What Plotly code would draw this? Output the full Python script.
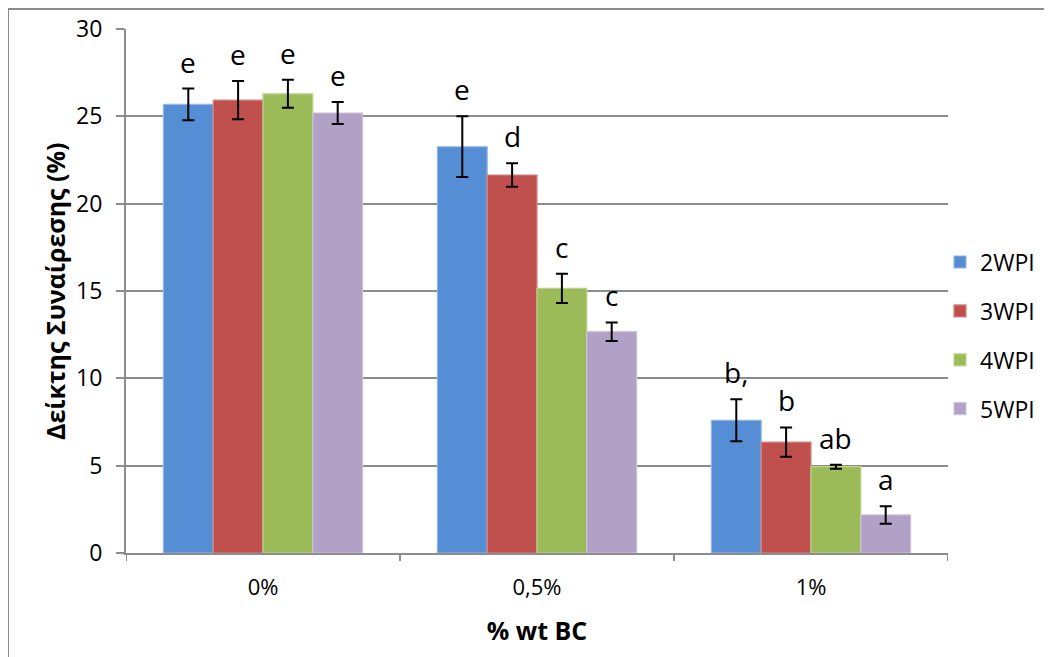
import plotly.graph_objects as go

categories = ["0%", "0,5%", "1%"]
series_names = ["2WPI", "3WPI", "4WPI", "5WPI"]
values_2wpi = [25.68, 23.26, 7.60]
values_3wpi = [25.93, 21.64, 6.35]
values_4wpi = [26.29, 15.15, 4.94]
values_5wpi = [25.19, 12.67, 2.18]
errors_2wpi = [0.91, 1.74, 1.20]
errors_3wpi = [1.10, 0.67, 0.84]
errors_4wpi = [0.80, 0.84, 0.11]
errors_5wpi = [0.63, 0.53, 0.50]
labels_2wpi = ["e", "e", "b,"]
labels_3wpi = ["e", "d", "b"]
labels_4wpi = ["e", "c", "ab"]
labels_5wpi = ["e", "c", "a"]
y_ticks = [0, 5, 10, 15, 20, 25, 30]

values = [values_2wpi, values_3wpi, values_4wpi, values_5wpi]
errors = [errors_2wpi, errors_3wpi, errors_4wpi, errors_5wpi]
labels = [labels_2wpi, labels_3wpi, labels_4wpi, labels_5wpi]
colors = ["#558ED5", "#C0504D", "#9BBB59", "#B2A1C7"]
edge_colors = ["#95B7E3", "#D08583", "#BCD38E", "#CDC1DB"]

FONT = "Open Sans"
GRID = "#8C8C8C"
BARGAP = 0.273

# the page body adds an 8px offset; margins below compensate for it
W, H = 1052, 657
ML, MT, MR, MB = 118, 21, 112, 112
PW, PH = W - ML - MR, H - MT - MB

fig = go.Figure()
for i, name in enumerate(series_names):
    fig.add_trace(go.Bar(
        x=list(range(len(categories))), y=values[i], name=name,
        legendgroup=name,
        marker=dict(color=colors[i], line=dict(color=edge_colors[i], width=1.2)),
        error_y=dict(type="data", array=errors[i], visible=True,
                     color="black", thickness=2, width=6),
    ))

annotations = []
n = len(series_names)
bw = (1 - BARGAP) / n
for i in range(n):
    for j in range(len(categories)):
        annotations.append(dict(
            x=j + (i - (n - 1) / 2) * bw, y=values[i][j] + errors[i][j],
            xref="x", yref="y", text=labels[i][j], showarrow=False,
            yanchor="bottom", yshift=6,
            font=dict(family=FONT, size=28, color="black"),
        ))

# y-axis title as a rotated annotation
annotations.append(dict(
    x=(47 - ML) / PW, y=0.5, xref="paper", yref="paper",
    text="<b>Δείκτης Συναίρεσης (%)</b>", textangle=-90, showarrow=False,
    xanchor="center", yanchor="middle",
    font=dict(family=FONT, size=25, color="black"),
))

fig.update_layout(
    width=W, height=H,
    margin=dict(l=ML, r=MR, t=MT, b=MB, autoexpand=False),
    paper_bgcolor="white", plot_bgcolor="white",
    barmode="group", bargap=BARGAP, bargroupgap=0,
    font=dict(family=FONT, color="black"),
    showlegend=True,
    legend=dict(x=(932 - ML) / PW, xanchor="left", y=0.415, yanchor="middle",
                font=dict(family=FONT, size=23, color="black"),
                tracegroupgap=16, bgcolor="rgba(0,0,0,0)"),
    annotations=annotations,
    xaxis=dict(
        tickmode="array", tickvals=list(range(len(categories))), ticktext=categories,
        range=[-0.5, len(categories) - 0.5],
        showgrid=False, showline=True, linecolor=GRID, linewidth=2,
        ticks="", automargin=False,
        tickfont=dict(family=FONT, size=22, color="black"),
        ticklabelstandoff=14,
        title=dict(text="<b>% wt BC</b>", font=dict(family=FONT, size=25, color="black"),
                   standoff=22),
    ),
    yaxis=dict(
        range=[0, 30], tickvals=y_ticks, automargin=False,
        showgrid=True, gridcolor=GRID, gridwidth=2,
        showline=True, linecolor=GRID, linewidth=2,
        ticks="outside", ticklen=8, tickwidth=2, tickcolor=GRID,
        tickfont=dict(family=FONT, size=23, color="black"),
        ticklabelstandoff=9, zeroline=False,
    ),
)

# category boundary ticks on the x axis
for k in range(len(categories) + 1):
    fig.add_shape(type="line", xref="x", yref="paper", x0=k - 0.5, x1=k - 0.5,
                  y0=0, y1=-8 / PH, line=dict(color=GRID, width=2))

# outer chart border (left and top edges visible)
bx = (0 - ML) / PW
by = 1 + (MT - 1) / PH
fig.add_shape(type="line", xref="paper", yref="paper", x0=bx, x1=bx, y0=-0.5, y1=by,
              line=dict(color="#8C8C8C", width=2))
fig.add_shape(type="line", xref="paper", yref="paper", x0=bx, x1=1.5, y0=by, y1=by,
              line=dict(color="#8C8C8C", width=2))

fig.write_html("out.html")
